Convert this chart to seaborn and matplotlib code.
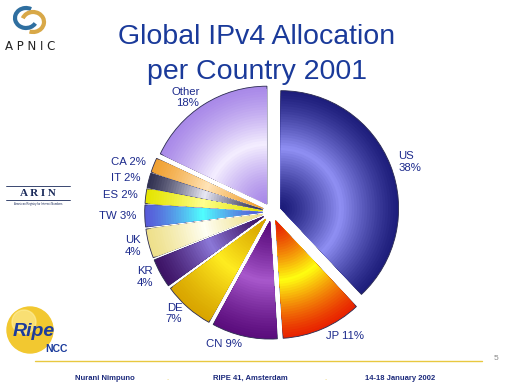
import numpy as np
import seaborn as sns
import matplotlib.pyplot as plt
from matplotlib.colors import to_rgb
from matplotlib.patches import Circle, Arc

sns.set_style("white")
plt.rcParams["font.family"] = ["Liberation Sans", "DejaVu Sans"]

# data, clockwise from 12 o'clock
countries = ["US", "JP", "CN", "DE", "KR", "UK", "TW", "ES", "IT", "CA", "Other"]
shares = [38, 11, 9, 7, 4, 4, 3, 2, 2, 2, 18]
labels = ["US\n38%", "JP 11%", "CN 9%", "DE\n7%", "KR\n4%", "UK\n4%",
          "TW 3%", "ES 2%", "IT 2%", "CA 2%", "Other\n18%"]

# rim colour and highlight colour for each slice
rim = ["#1c1c7a", "#e82000", "#5a0c7c", "#d8a400", "#3c1264", "#eee08a",
       "#5858d8", "#e4e400", "#303050", "#f0a030", "#a888e8"]
glow = ["#9090f4", "#ffff10", "#a858cc", "#ffec20", "#8c78d8", "#fffff4",
        "#50ffff", "#ffff90", "#e8e8f4", "#ffe4b8", "#f4eeff"]

W, H = 512, 384
fig = plt.figure(figsize=(W / 100, H / 100), dpi=100)


def fx(x, y):
    return x / W, 1 - y / H


# pie axes
ax = fig.add_axes([107 / W, 7 / H, 330 / W, 330 / H])
explode = [0.08] * len(shares)
n_rings = 45
radii = np.linspace(1.0, 0.03, n_rings)
for k, r in enumerate(radii):
    # light spot about half way out, darker to rim and centre
    t = np.clip(1 - abs(r - 0.52) / 0.5, 0, 1) ** 1.3
    cols = [tuple((1 - t) * np.array(to_rgb(a)) + t * np.array(to_rgb(b)))
            for a, b in zip(rim, glow)]
    ax.pie(shares, startangle=90, counterclock=False, radius=r,
           explode=explode, colors=cols,
           labels=labels if k == 0 else None, labeldistance=1.07,
           wedgeprops=dict(edgecolor="#2a2a50" if k == 0 else "none",
                           linewidth=0.6 if k == 0 else 0),
           textprops=dict(color="#1c2a8c", fontsize=8.2))
ax.set_xlim(-1.4, 1.4)
ax.set_ylim(-1.4, 1.4)
ax.set_aspect("equal")

# title
fig.text(*fx(257, 37), "Global IPv4 Allocation", ha="center", va="center",
         fontsize=20.5, color="#1a3a9a")
fig.text(*fx(257, 72), "per Country 2001", ha="center", va="center",
         fontsize=20.5, color="#1a3a9a")

# APNIC logo
lax = fig.add_axes([0, 0, 1, 1], facecolor="none")
lax.set_xlim(0, W)
lax.set_ylim(H, 0)
lax.axis("off")
lax.add_patch(Arc((26, 18), 22, 20, theta1=30, theta2=300, color="#2f6fa0", lw=3))
lax.add_patch(Arc((33, 22), 22, 20, theta1=200, theta2=110, color="#d8a848", lw=3))
fig.text(*fx(30, 46), "A P N I C", ha="center", va="center", fontsize=8.5,
         color="#222222", fontfamily="DejaVu Sans")

# ARIN logo
fig.text(*fx(38, 194), "A R I N", ha="center", va="center", fontsize=8,
         color="#1a2a5a", fontfamily="Liberation Serif", fontweight="bold")
lax.plot([6, 70], [186, 186], color="#1a2a5a", lw=0.6)
lax.plot([6, 70], [200, 200], color="#1a2a5a", lw=0.6)
fig.text(*fx(38, 204), "American Registry for Internet Numbers", ha="center",
         va="center", fontsize=2, color="#1a2a5a")

# RIPE NCC logo
lax.add_patch(Circle((30, 330), 23, color="#f2c830"))
lax.add_patch(Circle((24, 322), 12, color="#fff0a0", alpha=0.6))
fig.text(*fx(34, 332), "Ripe", ha="center", va="center", fontsize=14,
         color="#1c3c9c", fontweight="bold", style="italic")
fig.text(*fx(56, 349), "NCC", ha="center", va="center", fontsize=7.5,
         color="#1c3c9c", fontweight="bold")

# footer
lax.plot([35, 482], [361, 361], color="#e8c840", lw=1)
fig.text(*fx(496, 358), "5", ha="center", va="center", fontsize=6, color="#888888")
fig.text(*fx(105, 378), "Nurani Nimpuno", ha="center", va="center",
         fontsize=5.5, color="#1c2a7c", fontweight="bold")
fig.text(*fx(250, 378), "RIPE 41, Amsterdam", ha="center", va="center",
         fontsize=5.5, color="#1c2a7c", fontweight="bold")
fig.text(*fx(400, 378), "14-18 January 2002", ha="center", va="center",
         fontsize=5.5, color="#1c2a7c", fontweight="bold")
fig.text(*fx(167, 378), ".", ha="center", va="center", fontsize=5.5, color="#e8c840")
fig.text(*fx(325, 378), ".", ha="center", va="center", fontsize=5.5, color="#e8c840")

fig.savefig("out.png", dpi=100, facecolor="white")
